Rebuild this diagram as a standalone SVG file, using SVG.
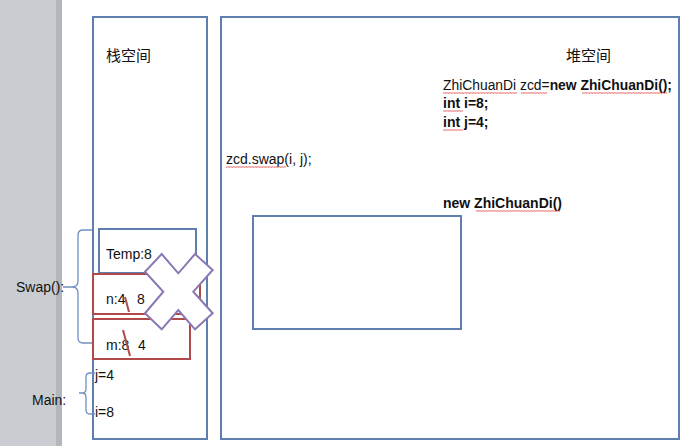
<svg xmlns="http://www.w3.org/2000/svg" width="685" height="446" viewBox="0 0 685 446">
<style>
.box{fill:none;stroke:#5f7fae;stroke-width:2}
.red{fill:none;stroke:#b04a4a;stroke-width:2}
.t{font-family:"Liberation Sans","Noto Sans CJK SC",sans-serif;font-size:14px;fill:#111}
.b{font-weight:bold}
.cjk{font-family:"Noto Sans CJK SC",sans-serif;font-size:15px;fill:#111}
.brace{fill:none;stroke:#6f90c0;stroke-width:1.3}
.sq{fill:url(#squig)}
</style>
<defs>
<pattern id="squig" x="0" y="0" width="3" height="2" patternUnits="userSpaceOnUse">
<path d="M0,1.8 L0.75,0.3 L1.5,1.8 L2.25,0.3 L3,1.8" fill="none" stroke="#e04040" stroke-width="0.5"/>
</pattern>
</defs>
<rect x="0" y="0" width="685" height="446" fill="#ffffff"/>
<rect x="0" y="0" width="56" height="446" fill="#c9ccd0"/>
<rect x="56" y="0" width="6" height="446" fill="#b3b6ba"/>
<g id="stack">
<rect class="box" x="93" y="17" width="114" height="422"/>
<text class="cjk" x="106" y="61">栈空间</text>
</g>
<g id="heap">
<rect class="box" x="221" y="17" width="458" height="422"/>
<text class="cjk" x="566" y="61">堆空间</text>
<text class="t" x="443" y="90" textLength="229" lengthAdjust="spacingAndGlyphs">ZhiChuanDi zcd=<tspan class="b">new ZhiChuanDi();</tspan></text>
<text class="t b" x="443" y="108">int i=8;</text>
<text class="t b" x="443" y="127">int j=4;</text>
<text class="t" x="226" y="164">zcd.swap(i, j);</text>
<text class="t b" x="443" y="208">new ZhiChuanDi()</text>
<rect class="sq" x="443" y="92" width="74" height="2"/>
<rect class="sq" x="521" y="92" width="26" height="2"/>
<rect class="sq" x="582" y="92" width="85" height="2"/>
<rect class="sq" x="443" y="110" width="20" height="2"/>
<rect class="sq" x="443" y="129" width="20" height="2"/>
<rect class="sq" x="226" y="166" width="60" height="2"/>
<rect class="sq" x="476" y="210" width="84" height="2"/>
</g>
<g id="object">
<rect class="box" x="253" y="216" width="208" height="113"/>
</g>
<g id="temp">
<rect class="box" x="99" y="229" width="97" height="44"/>
<text class="t" x="106" y="259">Temp:8</text>
</g>
<g id="n">
<rect class="red" x="93" y="274" width="107" height="40"/>
<text class="t" x="106" y="304">n:4</text>
<text class="t" x="137" y="304">8</text>
<line x1="125" y1="297" x2="129" y2="312" stroke="#b04a4a" stroke-width="2"/>
</g>
<g id="m">
<rect class="red" x="93" y="319" width="97" height="40"/>
<text class="t" x="106" y="350">m:8</text>
<text class="t" x="138" y="350">4</text>
<line x1="123" y1="330" x2="130" y2="356" stroke="#b04a4a" stroke-width="2"/>
</g>
<g id="cross">
<polygon points="161.7,254 178.3,273.3 195,254 212.7,270 193.3,291.7 212.7,313.3 195,329.3 178.3,310 161.7,329.3 145,313.3 163.3,291.7 145,271.7" fill="#ffffff" stroke="#8a78b4" stroke-width="2"/>
</g>
<g id="main">
<text class="t" x="95" y="380">j=4</text>
<text class="t" x="95" y="417">i=8</text>
<text class="t" x="32" y="405">Main:</text>
</g>
<g id="swaplabel">
<text class="t" x="16" y="292">Swap():</text>
</g>
<g id="connectors">
<path class="brace" d="M92,230 L83,230 Q78,230 78,235 L78,281 Q78,287 72,287 L63,287 M72,287 Q78,287 78,293 L78,338 Q78,343 83,343 L92,343"/>
<path class="brace" d="M95,373 L90,373 Q86,373 86,377 L86,389 Q86,393 82,393 L79,393 M82,393 Q86,393 86,397 L86,410 Q86,414 90,414 L95,414"/>
</g>
</svg>
